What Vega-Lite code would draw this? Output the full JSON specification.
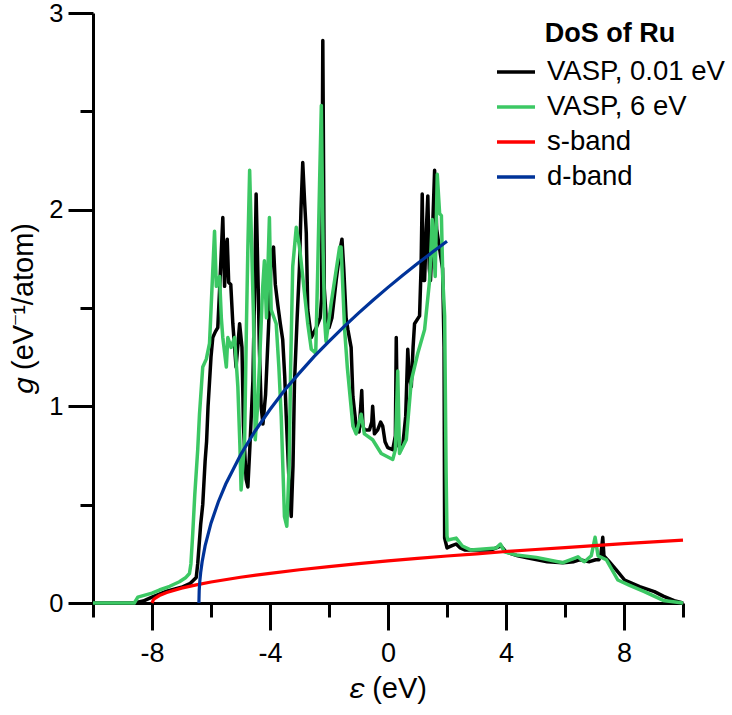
{
  "$schema": "https://vega.github.io/schema/vega-lite/v6.json",
  "autosize": {"type": "none"},
  "width": 590,
  "height": 590,
  "padding": {"left": 93, "top": 13, "right": 49, "bottom": 112},
  "config": {
    "font": "Liberation Sans",
    "view": {"stroke": null},
    "axis": {"grid": false, "domainColor": "black", "domainWidth": 3, "tickColor": "black", "tickWidth": 3, "labelColor": "black", "titleColor": "black", "labelFont": "Liberation Sans", "titleFont": "Liberation Sans", "labelFontSize": 27, "titleFontSize": 29, "titleFontWeight": "normal"}
  },
  "data": {"values": [
    {"s": "VASP, 0.01 eV", "x": -10, "y": 0},
    {"s": "VASP, 0.01 eV", "x": -8.6, "y": 0},
    {"s": "VASP, 0.01 eV", "x": -8.3, "y": 0.01},
    {"s": "VASP, 0.01 eV", "x": -8.0, "y": 0.03},
    {"s": "VASP, 0.01 eV", "x": -7.5, "y": 0.06},
    {"s": "VASP, 0.01 eV", "x": -7.0, "y": 0.08},
    {"s": "VASP, 0.01 eV", "x": -6.7, "y": 0.10},
    {"s": "VASP, 0.01 eV", "x": -6.5, "y": 0.13},
    {"s": "VASP, 0.01 eV", "x": -6.45, "y": 0.2},
    {"s": "VASP, 0.01 eV", "x": -6.35, "y": 0.4},
    {"s": "VASP, 0.01 eV", "x": -6.28, "y": 0.5},
    {"s": "VASP, 0.01 eV", "x": -6.2, "y": 0.72},
    {"s": "VASP, 0.01 eV", "x": -6.15, "y": 0.82},
    {"s": "VASP, 0.01 eV", "x": -6.1, "y": 1.0},
    {"s": "VASP, 0.01 eV", "x": -6.0, "y": 1.25},
    {"s": "VASP, 0.01 eV", "x": -5.94, "y": 1.35},
    {"s": "VASP, 0.01 eV", "x": -5.85, "y": 1.38},
    {"s": "VASP, 0.01 eV", "x": -5.77, "y": 1.4},
    {"s": "VASP, 0.01 eV", "x": -5.7, "y": 1.62},
    {"s": "VASP, 0.01 eV", "x": -5.6, "y": 1.96},
    {"s": "VASP, 0.01 eV", "x": -5.54, "y": 1.61},
    {"s": "VASP, 0.01 eV", "x": -5.48, "y": 1.82},
    {"s": "VASP, 0.01 eV", "x": -5.45, "y": 1.85},
    {"s": "VASP, 0.01 eV", "x": -5.4, "y": 1.63},
    {"s": "VASP, 0.01 eV", "x": -5.33, "y": 1.62},
    {"s": "VASP, 0.01 eV", "x": -5.26, "y": 1.42},
    {"s": "VASP, 0.01 eV", "x": -5.15, "y": 1.2},
    {"s": "VASP, 0.01 eV", "x": -5.03, "y": 1.42},
    {"s": "VASP, 0.01 eV", "x": -4.95, "y": 1.3},
    {"s": "VASP, 0.01 eV", "x": -4.9, "y": 0.9},
    {"s": "VASP, 0.01 eV", "x": -4.81, "y": 0.63},
    {"s": "VASP, 0.01 eV", "x": -4.75, "y": 0.59},
    {"s": "VASP, 0.01 eV", "x": -4.68, "y": 0.8},
    {"s": "VASP, 0.01 eV", "x": -4.58, "y": 1.13},
    {"s": "VASP, 0.01 eV", "x": -4.52, "y": 1.6},
    {"s": "VASP, 0.01 eV", "x": -4.47, "y": 2.08},
    {"s": "VASP, 0.01 eV", "x": -4.4, "y": 1.6},
    {"s": "VASP, 0.01 eV", "x": -4.36, "y": 1.29},
    {"s": "VASP, 0.01 eV", "x": -4.3, "y": 1.0},
    {"s": "VASP, 0.01 eV", "x": -4.24, "y": 0.91},
    {"s": "VASP, 0.01 eV", "x": -4.15, "y": 1.06},
    {"s": "VASP, 0.01 eV", "x": -4.05, "y": 1.4},
    {"s": "VASP, 0.01 eV", "x": -3.95, "y": 1.78},
    {"s": "VASP, 0.01 eV", "x": -3.88, "y": 1.81},
    {"s": "VASP, 0.01 eV", "x": -3.82, "y": 1.62},
    {"s": "VASP, 0.01 eV", "x": -3.74, "y": 1.52},
    {"s": "VASP, 0.01 eV", "x": -3.65, "y": 1.42},
    {"s": "VASP, 0.01 eV", "x": -3.57, "y": 1.34},
    {"s": "VASP, 0.01 eV", "x": -3.5, "y": 1.15},
    {"s": "VASP, 0.01 eV", "x": -3.45, "y": 0.95},
    {"s": "VASP, 0.01 eV", "x": -3.35, "y": 0.6},
    {"s": "VASP, 0.01 eV", "x": -3.28, "y": 0.44},
    {"s": "VASP, 0.01 eV", "x": -3.22, "y": 0.7},
    {"s": "VASP, 0.01 eV", "x": -3.17, "y": 1.12},
    {"s": "VASP, 0.01 eV", "x": -3.08, "y": 1.45},
    {"s": "VASP, 0.01 eV", "x": -3.0, "y": 1.71},
    {"s": "VASP, 0.01 eV", "x": -2.95, "y": 2.0},
    {"s": "VASP, 0.01 eV", "x": -2.89, "y": 2.24},
    {"s": "VASP, 0.01 eV", "x": -2.83, "y": 2.05},
    {"s": "VASP, 0.01 eV", "x": -2.77, "y": 1.88},
    {"s": "VASP, 0.01 eV", "x": -2.72, "y": 1.49},
    {"s": "VASP, 0.01 eV", "x": -2.6, "y": 1.35},
    {"s": "VASP, 0.01 eV", "x": -2.43, "y": 1.4},
    {"s": "VASP, 0.01 eV", "x": -2.3, "y": 1.45},
    {"s": "VASP, 0.01 eV", "x": -2.25, "y": 1.55},
    {"s": "VASP, 0.01 eV", "x": -2.21, "y": 2.86},
    {"s": "VASP, 0.01 eV", "x": -2.16, "y": 1.6},
    {"s": "VASP, 0.01 eV", "x": -2.09, "y": 1.44},
    {"s": "VASP, 0.01 eV", "x": -2.0, "y": 1.4},
    {"s": "VASP, 0.01 eV", "x": -1.9, "y": 1.45},
    {"s": "VASP, 0.01 eV", "x": -1.75, "y": 1.65},
    {"s": "VASP, 0.01 eV", "x": -1.62, "y": 1.8},
    {"s": "VASP, 0.01 eV", "x": -1.56, "y": 1.85},
    {"s": "VASP, 0.01 eV", "x": -1.5, "y": 1.7},
    {"s": "VASP, 0.01 eV", "x": -1.42, "y": 1.45},
    {"s": "VASP, 0.01 eV", "x": -1.36, "y": 1.39},
    {"s": "VASP, 0.01 eV", "x": -1.25, "y": 1.3},
    {"s": "VASP, 0.01 eV", "x": -1.19, "y": 1.05},
    {"s": "VASP, 0.01 eV", "x": -1.08, "y": 0.9},
    {"s": "VASP, 0.01 eV", "x": -0.98, "y": 0.87},
    {"s": "VASP, 0.01 eV", "x": -0.89, "y": 1.08},
    {"s": "VASP, 0.01 eV", "x": -0.85, "y": 0.9},
    {"s": "VASP, 0.01 eV", "x": -0.8, "y": 0.88},
    {"s": "VASP, 0.01 eV", "x": -0.63, "y": 0.88},
    {"s": "VASP, 0.01 eV", "x": -0.55, "y": 0.92},
    {"s": "VASP, 0.01 eV", "x": -0.52, "y": 1.0},
    {"s": "VASP, 0.01 eV", "x": -0.46, "y": 0.86},
    {"s": "VASP, 0.01 eV", "x": -0.35, "y": 0.88},
    {"s": "VASP, 0.01 eV", "x": -0.25, "y": 0.92},
    {"s": "VASP, 0.01 eV", "x": -0.18, "y": 0.9},
    {"s": "VASP, 0.01 eV", "x": -0.1, "y": 0.82},
    {"s": "VASP, 0.01 eV", "x": -0.01, "y": 0.79},
    {"s": "VASP, 0.01 eV", "x": 0.16, "y": 0.78},
    {"s": "VASP, 0.01 eV", "x": 0.25, "y": 0.85},
    {"s": "VASP, 0.01 eV", "x": 0.28, "y": 1.35},
    {"s": "VASP, 0.01 eV", "x": 0.33, "y": 0.8},
    {"s": "VASP, 0.01 eV", "x": 0.5, "y": 0.8},
    {"s": "VASP, 0.01 eV", "x": 0.6, "y": 0.95},
    {"s": "VASP, 0.01 eV", "x": 0.67, "y": 1.29},
    {"s": "VASP, 0.01 eV", "x": 0.72, "y": 1.15},
    {"s": "VASP, 0.01 eV", "x": 0.79, "y": 1.1},
    {"s": "VASP, 0.01 eV", "x": 0.85, "y": 1.3},
    {"s": "VASP, 0.01 eV", "x": 0.9, "y": 1.42},
    {"s": "VASP, 0.01 eV", "x": 1.07, "y": 1.46},
    {"s": "VASP, 0.01 eV", "x": 1.12, "y": 1.7},
    {"s": "VASP, 0.01 eV", "x": 1.16, "y": 2.08},
    {"s": "VASP, 0.01 eV", "x": 1.2, "y": 1.64},
    {"s": "VASP, 0.01 eV", "x": 1.24, "y": 1.64},
    {"s": "VASP, 0.01 eV", "x": 1.3, "y": 1.9},
    {"s": "VASP, 0.01 eV", "x": 1.35, "y": 2.07},
    {"s": "VASP, 0.01 eV", "x": 1.4, "y": 1.7},
    {"s": "VASP, 0.01 eV", "x": 1.44, "y": 1.64},
    {"s": "VASP, 0.01 eV", "x": 1.5, "y": 1.85},
    {"s": "VASP, 0.01 eV", "x": 1.58, "y": 2.2},
    {"s": "VASP, 0.01 eV", "x": 1.65, "y": 1.9},
    {"s": "VASP, 0.01 eV", "x": 1.75, "y": 1.8},
    {"s": "VASP, 0.01 eV", "x": 1.85, "y": 1.7},
    {"s": "VASP, 0.01 eV", "x": 1.9, "y": 1.3},
    {"s": "VASP, 0.01 eV", "x": 1.92, "y": 0.33},
    {"s": "VASP, 0.01 eV", "x": 2.0, "y": 0.28},
    {"s": "VASP, 0.01 eV", "x": 2.15, "y": 0.29},
    {"s": "VASP, 0.01 eV", "x": 2.31, "y": 0.3},
    {"s": "VASP, 0.01 eV", "x": 2.45, "y": 0.28},
    {"s": "VASP, 0.01 eV", "x": 2.6, "y": 0.27},
    {"s": "VASP, 0.01 eV", "x": 3.0, "y": 0.27},
    {"s": "VASP, 0.01 eV", "x": 3.5, "y": 0.27},
    {"s": "VASP, 0.01 eV", "x": 3.67, "y": 0.28},
    {"s": "VASP, 0.01 eV", "x": 3.83, "y": 0.29},
    {"s": "VASP, 0.01 eV", "x": 4.0, "y": 0.26},
    {"s": "VASP, 0.01 eV", "x": 4.4, "y": 0.24},
    {"s": "VASP, 0.01 eV", "x": 4.8, "y": 0.227},
    {"s": "VASP, 0.01 eV", "x": 5.4, "y": 0.21},
    {"s": "VASP, 0.01 eV", "x": 5.93, "y": 0.205},
    {"s": "VASP, 0.01 eV", "x": 6.3, "y": 0.21},
    {"s": "VASP, 0.01 eV", "x": 6.49, "y": 0.22},
    {"s": "VASP, 0.01 eV", "x": 6.83, "y": 0.21},
    {"s": "VASP, 0.01 eV", "x": 7.04, "y": 0.22},
    {"s": "VASP, 0.01 eV", "x": 7.15, "y": 0.22},
    {"s": "VASP, 0.01 eV", "x": 7.22, "y": 0.25},
    {"s": "VASP, 0.01 eV", "x": 7.28, "y": 0.334},
    {"s": "VASP, 0.01 eV", "x": 7.32, "y": 0.24},
    {"s": "VASP, 0.01 eV", "x": 7.5, "y": 0.21},
    {"s": "VASP, 0.01 eV", "x": 7.73, "y": 0.17},
    {"s": "VASP, 0.01 eV", "x": 8.02, "y": 0.117},
    {"s": "VASP, 0.01 eV", "x": 8.53, "y": 0.083},
    {"s": "VASP, 0.01 eV", "x": 9.03, "y": 0.058},
    {"s": "VASP, 0.01 eV", "x": 9.33, "y": 0.035},
    {"s": "VASP, 0.01 eV", "x": 9.7, "y": 0.012},
    {"s": "VASP, 0.01 eV", "x": 10, "y": 0},

    {"s": "VASP, 6 eV", "x": -10, "y": 0},
    {"s": "VASP, 6 eV", "x": -8.6, "y": 0},
    {"s": "VASP, 6 eV", "x": -8.48, "y": 0.03},
    {"s": "VASP, 6 eV", "x": -8.0, "y": 0.05},
    {"s": "VASP, 6 eV", "x": -7.75, "y": 0.066},
    {"s": "VASP, 6 eV", "x": -7.4, "y": 0.085},
    {"s": "VASP, 6 eV", "x": -7.07, "y": 0.108},
    {"s": "VASP, 6 eV", "x": -6.85, "y": 0.13},
    {"s": "VASP, 6 eV", "x": -6.73, "y": 0.15},
    {"s": "VASP, 6 eV", "x": -6.68, "y": 0.2},
    {"s": "VASP, 6 eV", "x": -6.62, "y": 0.35},
    {"s": "VASP, 6 eV", "x": -6.55, "y": 0.55},
    {"s": "VASP, 6 eV", "x": -6.45, "y": 0.78},
    {"s": "VASP, 6 eV", "x": -6.39, "y": 0.96},
    {"s": "VASP, 6 eV", "x": -6.28, "y": 1.2},
    {"s": "VASP, 6 eV", "x": -6.16, "y": 1.24},
    {"s": "VASP, 6 eV", "x": -6.05, "y": 1.32},
    {"s": "VASP, 6 eV", "x": -5.97, "y": 1.59},
    {"s": "VASP, 6 eV", "x": -5.88, "y": 1.89},
    {"s": "VASP, 6 eV", "x": -5.82, "y": 1.61},
    {"s": "VASP, 6 eV", "x": -5.71, "y": 1.66},
    {"s": "VASP, 6 eV", "x": -5.65, "y": 1.45},
    {"s": "VASP, 6 eV", "x": -5.6, "y": 1.35},
    {"s": "VASP, 6 eV", "x": -5.48, "y": 1.2},
    {"s": "VASP, 6 eV", "x": -5.43, "y": 1.35},
    {"s": "VASP, 6 eV", "x": -5.32, "y": 1.3},
    {"s": "VASP, 6 eV", "x": -5.2, "y": 1.35},
    {"s": "VASP, 6 eV", "x": -5.09, "y": 1.1},
    {"s": "VASP, 6 eV", "x": -5.02, "y": 0.8},
    {"s": "VASP, 6 eV", "x": -4.98, "y": 0.575},
    {"s": "VASP, 6 eV", "x": -4.92, "y": 0.7},
    {"s": "VASP, 6 eV", "x": -4.86, "y": 0.83},
    {"s": "VASP, 6 eV", "x": -4.8, "y": 1.4},
    {"s": "VASP, 6 eV", "x": -4.75, "y": 1.81},
    {"s": "VASP, 6 eV", "x": -4.69, "y": 2.2},
    {"s": "VASP, 6 eV", "x": -4.62, "y": 1.8},
    {"s": "VASP, 6 eV", "x": -4.56, "y": 1.46},
    {"s": "VASP, 6 eV", "x": -4.5, "y": 0.83},
    {"s": "VASP, 6 eV", "x": -4.42, "y": 1.0},
    {"s": "VASP, 6 eV", "x": -4.36, "y": 1.2},
    {"s": "VASP, 6 eV", "x": -4.25, "y": 1.6},
    {"s": "VASP, 6 eV", "x": -4.19, "y": 1.74},
    {"s": "VASP, 6 eV", "x": -4.12, "y": 1.45},
    {"s": "VASP, 6 eV", "x": -4.02, "y": 1.96},
    {"s": "VASP, 6 eV", "x": -3.96, "y": 1.49},
    {"s": "VASP, 6 eV", "x": -3.79, "y": 1.42},
    {"s": "VASP, 6 eV", "x": -3.7, "y": 1.2},
    {"s": "VASP, 6 eV", "x": -3.62, "y": 0.95},
    {"s": "VASP, 6 eV", "x": -3.51, "y": 0.44},
    {"s": "VASP, 6 eV", "x": -3.43, "y": 0.39},
    {"s": "VASP, 6 eV", "x": -3.35, "y": 0.7},
    {"s": "VASP, 6 eV", "x": -3.3, "y": 1.2},
    {"s": "VASP, 6 eV", "x": -3.23, "y": 1.71},
    {"s": "VASP, 6 eV", "x": -3.11, "y": 1.91},
    {"s": "VASP, 6 eV", "x": -3.0, "y": 1.81},
    {"s": "VASP, 6 eV", "x": -2.89, "y": 1.66},
    {"s": "VASP, 6 eV", "x": -2.72, "y": 1.42},
    {"s": "VASP, 6 eV", "x": -2.6, "y": 1.29},
    {"s": "VASP, 6 eV", "x": -2.45, "y": 1.27},
    {"s": "VASP, 6 eV", "x": -2.38, "y": 1.71},
    {"s": "VASP, 6 eV", "x": -2.32, "y": 2.13},
    {"s": "VASP, 6 eV", "x": -2.26, "y": 2.53},
    {"s": "VASP, 6 eV", "x": -2.2, "y": 1.8},
    {"s": "VASP, 6 eV", "x": -2.15, "y": 1.44},
    {"s": "VASP, 6 eV", "x": -2.1, "y": 1.33},
    {"s": "VASP, 6 eV", "x": -1.93, "y": 1.52},
    {"s": "VASP, 6 eV", "x": -1.75, "y": 1.7},
    {"s": "VASP, 6 eV", "x": -1.64, "y": 1.81},
    {"s": "VASP, 6 eV", "x": -1.59, "y": 1.81},
    {"s": "VASP, 6 eV", "x": -1.47, "y": 1.39},
    {"s": "VASP, 6 eV", "x": -1.38, "y": 1.2},
    {"s": "VASP, 6 eV", "x": -1.19, "y": 0.9},
    {"s": "VASP, 6 eV", "x": -1.08, "y": 0.86},
    {"s": "VASP, 6 eV", "x": -0.91, "y": 0.96},
    {"s": "VASP, 6 eV", "x": -0.8, "y": 0.86},
    {"s": "VASP, 6 eV", "x": -0.52, "y": 0.83},
    {"s": "VASP, 6 eV", "x": -0.23, "y": 0.76},
    {"s": "VASP, 6 eV", "x": 0.16, "y": 0.73},
    {"s": "VASP, 6 eV", "x": 0.25, "y": 0.78},
    {"s": "VASP, 6 eV", "x": 0.33, "y": 1.18},
    {"s": "VASP, 6 eV", "x": 0.39, "y": 0.76},
    {"s": "VASP, 6 eV", "x": 0.62, "y": 0.83},
    {"s": "VASP, 6 eV", "x": 0.79, "y": 1.13},
    {"s": "VASP, 6 eV", "x": 1.01, "y": 1.27},
    {"s": "VASP, 6 eV", "x": 1.24, "y": 1.39},
    {"s": "VASP, 6 eV", "x": 1.41, "y": 1.64},
    {"s": "VASP, 6 eV", "x": 1.5, "y": 1.95},
    {"s": "VASP, 6 eV", "x": 1.6, "y": 1.66},
    {"s": "VASP, 6 eV", "x": 1.67, "y": 2.18},
    {"s": "VASP, 6 eV", "x": 1.75, "y": 1.98},
    {"s": "VASP, 6 eV", "x": 1.81, "y": 1.97},
    {"s": "VASP, 6 eV", "x": 1.86, "y": 1.64},
    {"s": "VASP, 6 eV", "x": 1.92, "y": 1.46},
    {"s": "VASP, 6 eV", "x": 1.97, "y": 0.66},
    {"s": "VASP, 6 eV", "x": 2.0, "y": 0.34},
    {"s": "VASP, 6 eV", "x": 2.03, "y": 0.32},
    {"s": "VASP, 6 eV", "x": 2.31, "y": 0.33},
    {"s": "VASP, 6 eV", "x": 2.52, "y": 0.29},
    {"s": "VASP, 6 eV", "x": 2.8, "y": 0.27},
    {"s": "VASP, 6 eV", "x": 3.67, "y": 0.28},
    {"s": "VASP, 6 eV", "x": 3.81, "y": 0.3},
    {"s": "VASP, 6 eV", "x": 3.95, "y": 0.26},
    {"s": "VASP, 6 eV", "x": 4.35, "y": 0.244},
    {"s": "VASP, 6 eV", "x": 5.03, "y": 0.232},
    {"s": "VASP, 6 eV", "x": 5.93, "y": 0.205},
    {"s": "VASP, 6 eV", "x": 6.44, "y": 0.235},
    {"s": "VASP, 6 eV", "x": 6.55, "y": 0.22},
    {"s": "VASP, 6 eV", "x": 6.66, "y": 0.21},
    {"s": "VASP, 6 eV", "x": 6.89, "y": 0.24},
    {"s": "VASP, 6 eV", "x": 7.02, "y": 0.334},
    {"s": "VASP, 6 eV", "x": 7.12, "y": 0.24},
    {"s": "VASP, 6 eV", "x": 7.4, "y": 0.22},
    {"s": "VASP, 6 eV", "x": 7.79, "y": 0.117},
    {"s": "VASP, 6 eV", "x": 8.19, "y": 0.09},
    {"s": "VASP, 6 eV", "x": 8.69, "y": 0.058},
    {"s": "VASP, 6 eV", "x": 9.33, "y": 0.013},
    {"s": "VASP, 6 eV", "x": 10, "y": 0},

    {"s": "s-band", "x": -8, "y": 0},
    {"s": "s-band", "x": -7.95, "y": 0.017},
    {"s": "s-band", "x": -7.9, "y": 0.024},
    {"s": "s-band", "x": -7.75, "y": 0.038},
    {"s": "s-band", "x": -7.5, "y": 0.053},
    {"s": "s-band", "x": -7, "y": 0.0755},
    {"s": "s-band", "x": -6.5, "y": 0.092},
    {"s": "s-band", "x": -6, "y": 0.107},
    {"s": "s-band", "x": -5, "y": 0.131},
    {"s": "s-band", "x": -4, "y": 0.151},
    {"s": "s-band", "x": -3, "y": 0.169},
    {"s": "s-band", "x": -2, "y": 0.185},
    {"s": "s-band", "x": -1, "y": 0.2},
    {"s": "s-band", "x": 0, "y": 0.214},
    {"s": "s-band", "x": 1, "y": 0.227},
    {"s": "s-band", "x": 2, "y": 0.239},
    {"s": "s-band", "x": 3, "y": 0.25},
    {"s": "s-band", "x": 4, "y": 0.262},
    {"s": "s-band", "x": 5, "y": 0.272},
    {"s": "s-band", "x": 6, "y": 0.282},
    {"s": "s-band", "x": 7, "y": 0.292},
    {"s": "s-band", "x": 8, "y": 0.302},
    {"s": "s-band", "x": 9, "y": 0.311},
    {"s": "s-band", "x": 10, "y": 0.32},

    {"s": "d-band", "x": -6.41, "y": 0},
    {"s": "d-band", "x": -6.4, "y": 0.063},
    {"s": "d-band", "x": -6.38, "y": 0.11},
    {"s": "d-band", "x": -6.35, "y": 0.155},
    {"s": "d-band", "x": -6.3, "y": 0.21},
    {"s": "d-band", "x": -6.2, "y": 0.29},
    {"s": "d-band", "x": -6.0, "y": 0.406},
    {"s": "d-band", "x": -5.75, "y": 0.515},
    {"s": "d-band", "x": -5.5, "y": 0.605},
    {"s": "d-band", "x": -5.0, "y": 0.753},
    {"s": "d-band", "x": -4.5, "y": 0.876},
    {"s": "d-band", "x": -4.0, "y": 0.984},
    {"s": "d-band", "x": -3.5, "y": 1.083},
    {"s": "d-band", "x": -3.0, "y": 1.17},
    {"s": "d-band", "x": -2.5, "y": 1.254},
    {"s": "d-band", "x": -2.0, "y": 1.33},
    {"s": "d-band", "x": -1.5, "y": 1.404},
    {"s": "d-band", "x": -1.0, "y": 1.474},
    {"s": "d-band", "x": -0.5, "y": 1.541},
    {"s": "d-band", "x": 0, "y": 1.605},
    {"s": "d-band", "x": 0.5, "y": 1.667},
    {"s": "d-band", "x": 1.0, "y": 1.726},
    {"s": "d-band", "x": 1.5, "y": 1.783},
    {"s": "d-band", "x": 2.0, "y": 1.839}
  ]},
  "encoding": {
    "x": {"field": "x", "type": "quantitative", "scale": {"domain": [-10, 10], "nice": false, "zero": false},
      "axis": {"title": "𝜀 (eV)", "values": [-10, -8, -6, -4, -2, 0, 2, 4, 6, 8, 10],
        "tickSize": {"condition": {"test": "datum.value % 4 === 0", "value": 27}, "value": 14},
        "labelExpr": "datum.value % 4 === 0 ? '' + datum.value : ''",
        "labelPadding": 10, "titlePadding": 8, "labelFlush": false}},
    "y": {"field": "y", "type": "quantitative", "scale": {"domain": [0, 3], "nice": false},
      "axis": {"title": "𝑔 (eV⁻¹/atom)", "values": [0, 0.5, 1, 1.5, 2, 2.5, 3],
        "tickSize": {"condition": {"test": "datum.value % 1 === 0", "value": 25}, "value": 13},
        "labelExpr": "datum.value % 1 === 0 ? '' + datum.value : ''",
        "labelFontSize": 25.5,
        "labelPadding": 5, "titlePadding": 10, "labelFlush": false}},
    "color": {"field": "s", "type": "nominal",
      "scale": {"domain": ["VASP, 0.01 eV", "VASP, 6 eV", "s-band", "d-band"], "range": ["#000000", "#3cc864", "#ff0000", "#003399"]},
      "legend": {"title": "DoS of Ru", "orient": "none", "legendX": 402, "legendY": 8,
        "titleFontSize": 27, "titleFontWeight": "bold", "titleColor": "black", "titleAnchor": "middle", "titlePadding": 3,
        "labelFontSize": 27.5, "labelColor": "black", "labelOffset": 10, "labelLimit": 0,
        "symbolType": "stroke", "symbolSize": 1444, "symbolStrokeWidth": 3.5, "rowPadding": -3}}
  },
  "layer": [
    {"transform": [{"filter": "datum.s === 'VASP, 0.01 eV'"}], "mark": {"type": "line", "strokeWidth": 3.5, "strokeJoin": "round"}},
    {"transform": [{"filter": "datum.s === 'VASP, 6 eV'"}], "mark": {"type": "line", "strokeWidth": 3.5, "strokeJoin": "round"}},
    {"transform": [{"filter": "datum.s === 's-band'"}], "mark": {"type": "line", "strokeWidth": 3.2}},
    {"transform": [{"filter": "datum.s === 'd-band'"}], "mark": {"type": "line", "strokeWidth": 3.2}}
  ]
}
